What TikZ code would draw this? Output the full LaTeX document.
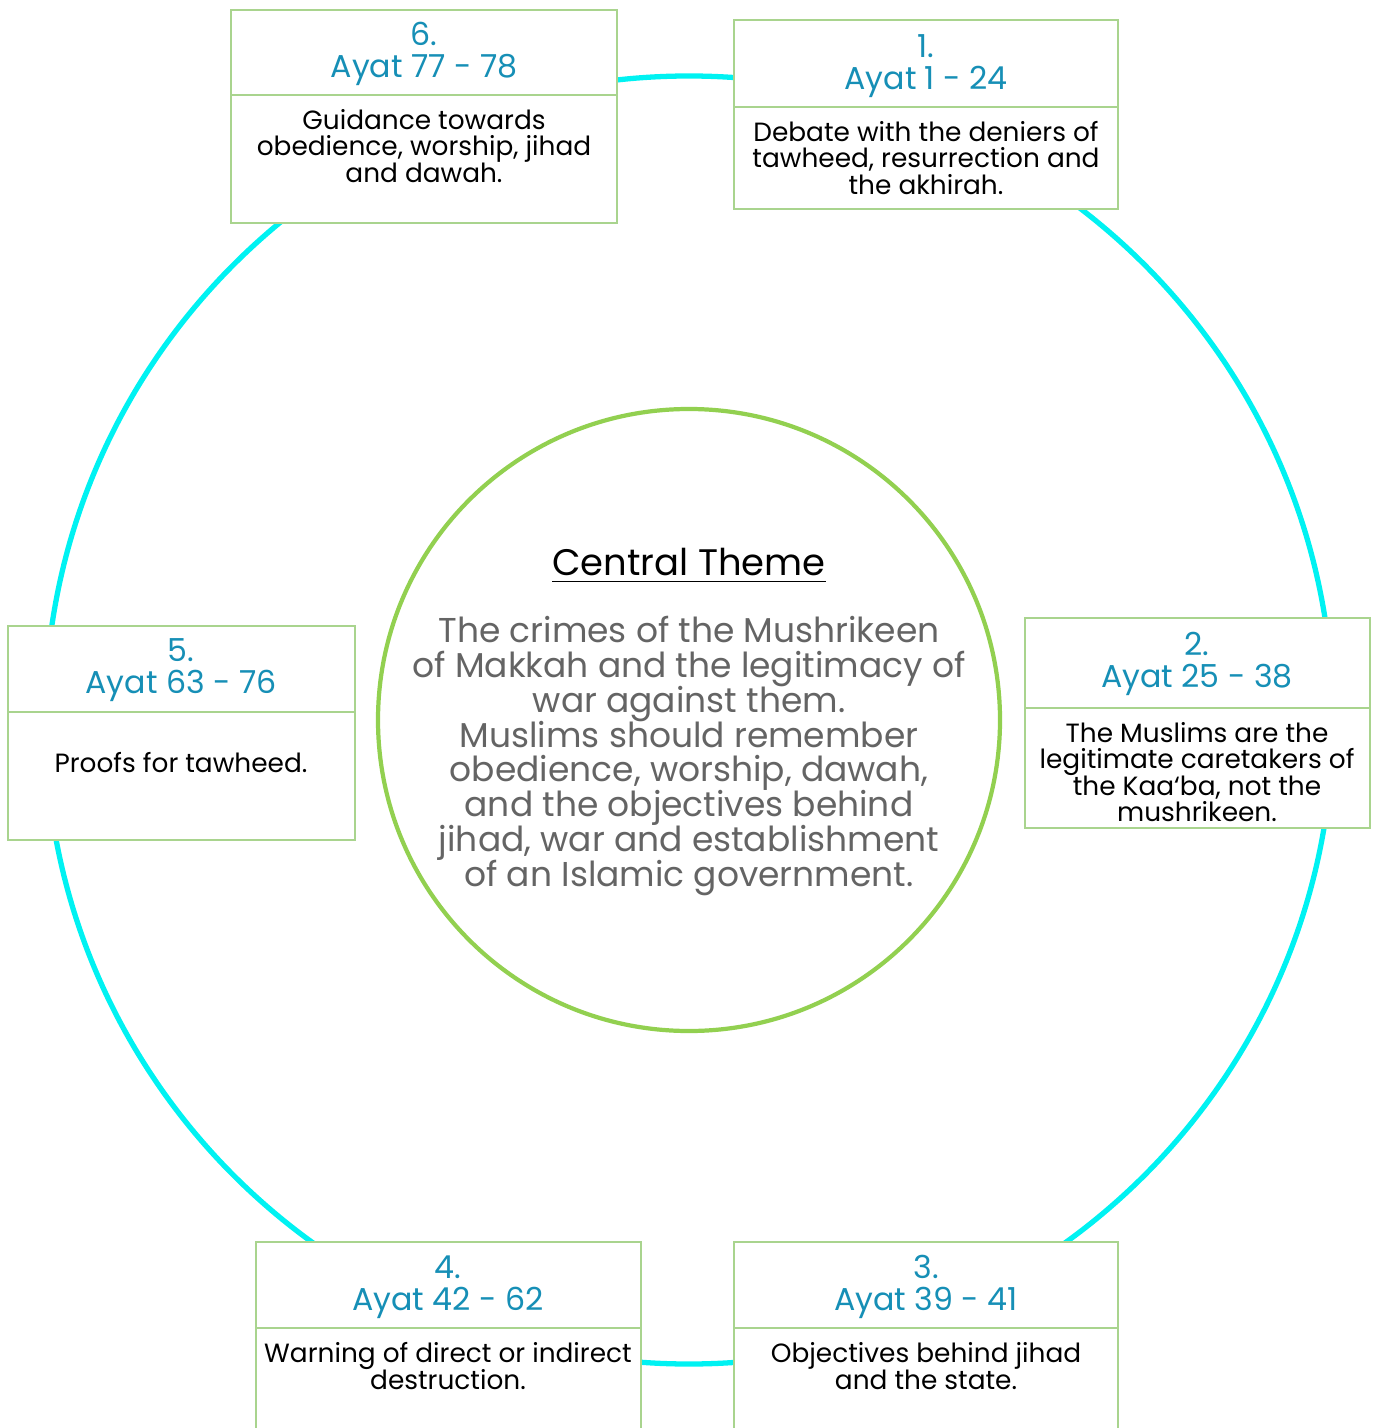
\documentclass[tikz,border=0pt]{standalone}
\usepackage{fontspec}
\setmainfont{Poppins}[Ligatures=ResetAll]
\definecolor{anneau}{RGB}{0,242,242}
\definecolor{vertrond}{RGB}{146,208,80}
\definecolor{bordure}{RGB}{169,212,142}
\definecolor{bleutitre}{RGB}{22,143,182}
\definecolor{grisTexte}{RGB}{100,100,100}
\newcommand{\serre}{\lineskiplimit=-10pt\lineskip=0pt}
\tikzset{
	boite/.style={draw=bordure,fill=white,line width=0.5pt},
	titre/.style={align=center,text=bleutitre,font=\fontsize{9}{9.1}\selectfont\serre},
	corps/.style={align=center,text=black,font=\fontsize{7.5}{7.5}\selectfont\serre},
}

\begin{document}
\begin{tikzpicture}[x=0.01cm,y=-0.01cm]
	\useasboundingbox (0,0) rectangle (1381,1428);
	\clip (0,0) rectangle (1381,1428);

	% les deux cercles
	\draw[anneau,line width=1.5pt] (689,720) circle (644);
	\draw[vertrond,line width=1.2pt,fill=white] (689,720) circle (311);

	% theme central
	\node[font=\fontsize{10.5}{12}\selectfont] (theme) at (689,566) {\underline{Central Theme}};
	\node[align=center,text=grisTexte,font=\fontsize{9.8}{9.9}\selectfont\serre] (resume) at (689,756) {The crimes of the Mushrikeen\\of Makkah and the legitimacy of\\war against them.\\Muslims should remember\\obedience, worship, dawah,\\and the objectives behind\\jihad, war and establishment\\of an Islamic government.};

	% boite 1
	\draw[boite] (734,20) rectangle (1118,209);
	\draw[bordure] (734,107) -- (1118,107);
	\node[titre] (t1) at (926,66) {1.\\Ayat 1 - 24};
	\node[corps] (c1) at (926,158) {Debate with the deniers of\\tawheed, resurrection and\\the akhirah.};

	% boite 2
	\draw[boite] (1025,618) rectangle (1370,828);
	\draw[bordure] (1025,708) -- (1370,708);
	\node[titre] (t2) at (1197,664) {2.\\Ayat 25 - 38};
	\node[corps] (c2) at (1197,772) {The Muslims are the\\legitimate caretakers of\\the Kaa`ba, not the\\mushrikeen.};

	% boite 3
	\draw[boite] (734,1242) rectangle (1118,1440);
	\draw[bordure] (734,1328) -- (1118,1328);
	\node[titre] (t3) at (926,1287) {3.\\Ayat 39 - 41};
	\node[corps] (c3) at (926,1366) {Objectives behind jihad\\and the state.};

	% boite 4
	\draw[boite] (256,1242) rectangle (641,1440);
	\draw[bordure] (256,1328) -- (641,1328);
	\node[titre] (t4) at (448,1287) {4.\\Ayat 42 - 62};
	\node[corps] (c4) at (448,1366) {Warning of direct or indirect\\destruction.};

	% boite 5
	\draw[boite] (8,626) rectangle (355,840);
	\draw[bordure] (8,712) -- (355,712);
	\node[titre] (t5) at (181,670) {5.\\Ayat 63 - 76};
	\node[corps] (c5) at (181,763) {Proofs for tawheed.};

	% boite 6
	\draw[boite] (231,10) rectangle (617,223);
	\draw[bordure] (231,95) -- (617,95);
	\node[titre] (t6) at (424,54) {6.\\Ayat 77 - 78};
	\node[corps] (c6) at (424,146) {Guidance towards\\obedience, worship, jihad\\and dawah.};
\end{tikzpicture}
\end{document}
